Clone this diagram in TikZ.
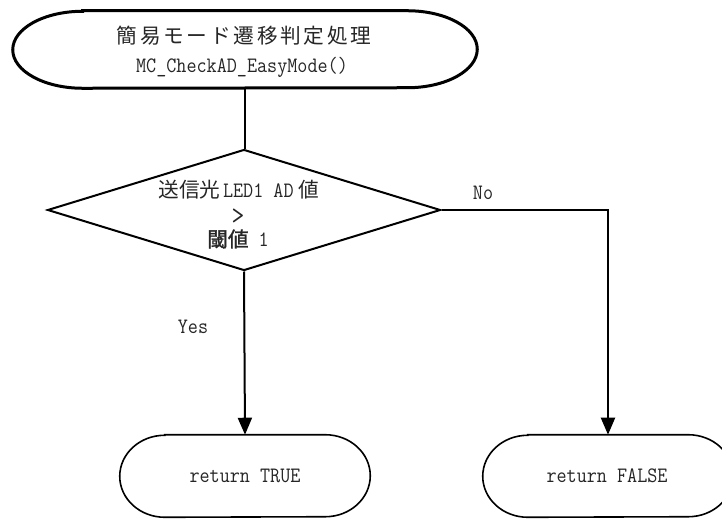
\documentclass[tikz,border=0pt]{standalone}
\usepackage{fontspec}
\setmainfont{Latin Modern Mono}[FakeStretch=0.89]
\newfontfamily\jpfont{Noto Sans CJK JP}
\newfontfamily\jpbfont{Noto Sans CJK JP}[FakeBold=1.5]
\newfontfamily\jptfont{Noto Sans CJK JP}[LetterSpace=13]
\usetikzlibrary{arrows.meta,shapes.geometric,calc}
\newcommand\latsz{\fontsize{16.5pt}{19pt}\selectfont}
\newcommand\jp[1]{{\jpfont\fontsize{15.5pt}{18pt}\selectfont #1}}
\newcommand\jpb[1]{{\jpbfont\fontsize{15.5pt}{18pt}\selectfont #1}}
\newcommand\jpt[1]{{\jptfont\fontsize{15.5pt}{18pt}\selectfont #1}}
\tikzset{
  box/.style={rectangle, inner sep=0pt, draw=none},
  txt/.style={inner sep=0pt, font=\latsz, text=black!85},
  decision/.style={diamond, inner sep=0pt, draw, line width=1.5pt},
  conn/.style={line width=1.5pt, -{Triangle[length=12.75pt,width=10.5pt]}},
  plainconn/.style={line width=1.5pt},
}
\begin{document}
\begin{tikzpicture}[x=0.75pt,y=0.75pt]
\useasboundingbox (0,0) rectangle (722,519);
\clip (0,0) rectangle (722,519);
\fill[white] (0,0) rectangle (722,519);

% start terminator
\node[box, minimum width=348pt, minimum height=57.75pt] (start) at (245,469.5) {};
\draw[line width=2.25pt]
  ([xshift=52.5pt]start.north west) -- ([xshift=-52.5pt]start.north east)
  arc[start angle=90,end angle=-90,x radius=52.5pt,y radius=28.875pt]
  -- ([xshift=52.5pt]start.south west)
  arc[start angle=270,end angle=90,x radius=52.5pt,y radius=28.875pt] -- cycle;
\node[txt] (startA) at (244,483) {\jpt{簡易モード遷移判定処理}};
\node[txt] (startB) at (242,452) {MC\_CheckAD\_EasyMode()};

% decision
\node[decision, minimum width=294.75pt, minimum height=90.75pt] (dec) at (244,309) {};
\node[txt] (decA) at (239,329) {\jp{送信光}\hspace{2pt}LED1 AD\hspace{4pt}\jp{値}};
\node[txt] (decB) at (238,302) {\fontsize{21pt}{21pt}\selectfont >};
\node[txt] (decC) at (238,280) {\jpb{閾値} 1};

% end terminators
\node[box, minimum width=187.5pt, minimum height=61.5pt] (true) at (245,43) {};
\draw[line width=1.2pt]
  ([xshift=33.75pt]true.north west) -- ([xshift=-33.75pt]true.north east)
  arc[start angle=90,end angle=-90,x radius=33.75pt,y radius=30.75pt]
  -- ([xshift=33.75pt]true.south west)
  arc[start angle=270,end angle=90,x radius=33.75pt,y radius=30.75pt] -- cycle;
\node[txt] (trueT) at (245,43) {return TRUE};

\node[box, minimum width=187.5pt, minimum height=61.5pt] (false) at (608,43) {};
\draw[line width=1.2pt]
  ([xshift=33.75pt]false.north west) -- ([xshift=-33.75pt]false.north east)
  arc[start angle=90,end angle=-90,x radius=33.75pt,y radius=30.75pt]
  -- ([xshift=33.75pt]false.south west)
  arc[start angle=270,end angle=90,x radius=33.75pt,y radius=30.75pt] -- cycle;
\node[txt] (falseT) at (607,43) {return FALSE};

% connectors
\draw[plainconn] (start.south) -- (start.south |- dec.north);
\draw[conn] (dec.south) -- (true.north);
\draw[conn] (dec.east) -| (false.north);

% labels
\node[txt] (yes) at (193,192) {Yes};
\node[txt] (no) at (483,326) {No};
\end{tikzpicture}
\end{document}
